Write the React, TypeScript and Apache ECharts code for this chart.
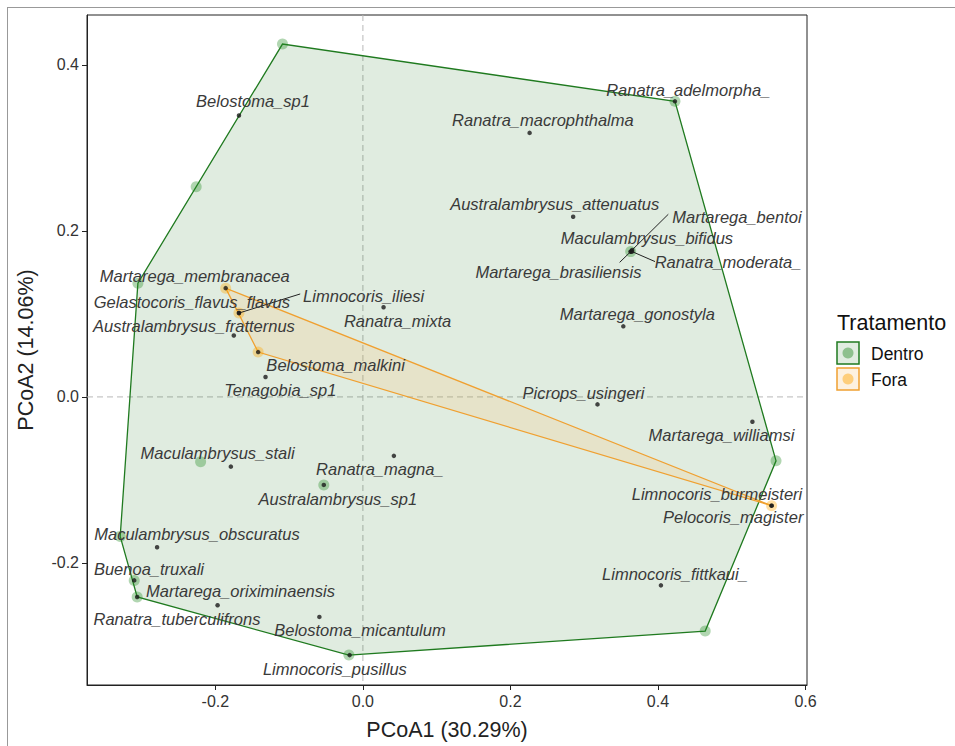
import React, { useEffect, useRef } from "react";
import * as echarts from "echarts";

// ---- Data ----
const speciesNames = [
  "Belostoma_sp1", "Ranatra_macrophthalma", "Ranatra_adelmorpha_", "Australambrysus_attenuatus",
  "Martarega_bentoi", "Maculambrysus_bifidus", "Martarega_brasiliensis", "Ranatra_moderata_",
  "Martarega_gonostyla", "Picrops_usingeri", "Martarega_williamsi", "Limnocoris_burmeisteri",
  "Pelocoris_magister", "Limnocoris_fittkaui_", "Martarega_membranacea", "Gelastocoris_flavus_flavus",
  "Australambrysus_fratternus", "Belostoma_malkini", "Tenagobia_sp1", "Limnocoris_iliesi",
  "Ranatra_mixta", "Maculambrysus_stali", "Ranatra_magna_", "Australambrysus_sp1",
  "Maculambrysus_obscuratus", "Buenoa_truxali", "Martarega_oriximinaensis", "Ranatra_tuberculifrons",
  "Belostoma_micantulum", "Limnocoris_pusillus",
];
const speciesX = [
  -0.168, 0.226, 0.423, 0.285,
  0.365, 0.363, 0.363, 0.365,
  0.353, 0.318, 0.528, 0.554,
  0.554, 0.404, -0.186, -0.168,
  -0.175, -0.142, -0.132, -0.168,
  0.028, -0.179, 0.042, -0.053,
  -0.279, -0.310, -0.197, -0.306,
  -0.059, -0.018,
];
const speciesY = [
  0.339, 0.318, 0.356, 0.217,
  0.177, 0.175, 0.175, 0.175,
  0.085, -0.009, -0.030, -0.131,
  -0.131, -0.227, 0.131, 0.101,
  0.074, 0.054, 0.024, 0.101,
  0.108, -0.084, -0.071, -0.106,
  -0.181, -0.221, -0.251, -0.241,
  -0.265, -0.311,
];
const labelX = [
  -0.149, 0.244, 0.441, 0.260,
  0.507, 0.385, 0.265, 0.495,
  0.372, 0.299, 0.486, 0.480,
  0.502, 0.423, -0.228, -0.232,
  -0.229, -0.037, -0.112, 0.001,
  0.047, -0.197, 0.023, -0.034,
  -0.225, -0.290, -0.166, -0.252,
  -0.004, -0.038,
];
const labelY = [
  0.357, 0.333, 0.370, 0.232,
  0.217, 0.191, 0.150, 0.163,
  0.100, 0.005, -0.046, -0.117,
  -0.145, -0.213, 0.146, 0.114,
  0.086, 0.038, 0.008, 0.122,
  0.092, -0.068, -0.087, -0.123,
  -0.165, -0.207, -0.234, -0.267,
  -0.281, -0.328,
];
// repel segments: label-side start points, ending at the species point
const segmentSpecies = ["Limnocoris_iliesi", "Martarega_bentoi", "Martarega_brasiliensis", "Ranatra_moderata_"];
const segmentStartX = [-0.085, 0.414, 0.348, 0.396];
const segmentStartY = [0.124, 0.220, 0.162, 0.163];

// site scores by treatment
const dentroX = [-0.109, 0.423, 0.560, 0.464, -0.019, -0.306, -0.310, -0.329, -0.305, -0.226, -0.220, -0.053, 0.363];
const dentroY = [0.425, 0.356, -0.077, -0.282, -0.311, -0.241, -0.221, -0.168, 0.137, 0.253, -0.078, -0.106, 0.175];
const foraX = [-0.186, -0.168, -0.142, 0.554];
const foraY = [0.131, 0.101, 0.054, -0.131];

const xTicks = [-0.2, 0.0, 0.2, 0.4, 0.6];
const yTicks = [-0.2, 0.0, 0.2, 0.4];

const GREEN = "#1f7a1f";
const ORANGE = "#f0a030";
const FONT = "'Liberation Sans', Arial, sans-serif";

function convexHull(pts: number[][]): number[][] {
  const p = pts.slice().sort((a, b) => (a[0] - b[0]) || (a[1] - b[1]));
  const cross = (o: number[], a: number[], b: number[]) =>
    (a[0] - o[0]) * (b[1] - o[1]) - (a[1] - o[1]) * (b[0] - o[0]);
  const lower: number[][] = [];
  for (const q of p) {
    while (lower.length >= 2 && cross(lower[lower.length - 2], lower[lower.length - 1], q) <= 0) lower.pop();
    lower.push(q);
  }
  const upper: number[][] = [];
  for (let i = p.length - 1; i >= 0; i--) {
    const q = p[i];
    while (upper.length >= 2 && cross(upper[upper.length - 2], upper[upper.length - 1], q) <= 0) upper.pop();
    upper.push(q);
  }
  upper.pop();
  lower.pop();
  return lower.concat(upper);
}

export default function App() {
  const ref = useRef<HTMLDivElement>(null);
  useEffect(() => {
    document.body.style.margin = "0";
    if (!ref.current) return;
    const chart = echarts.init(ref.current, undefined, { renderer: "svg" });

    const dentroPts = dentroX.map((x, i) => [x, dentroY[i]]);
    const foraPts = foraX.map((x, i) => [x, foraY[i]]);
    const hullD = convexHull(dentroPts);
    const hullF = convexHull(foraPts);
    const species = speciesNames.map((n, i) => ({ name: n, value: [speciesX[i], speciesY[i]] }));
    const labels = speciesNames.map((n, i) => ({ name: n, value: [labelX[i], labelY[i]] }));
    const segs = segmentSpecies.map((n, i) => {
      const k = speciesNames.indexOf(n);
      return [segmentStartX[i], segmentStartY[i], speciesX[k], speciesY[k]];
    });

    const hullSeries = (hull: number[][], fill: string, stroke: string, z: number) => ({
      type: "custom",
      silent: true,
      z,
      data: [[0, 0]],
      renderItem: (_p: any, api: any) => ({
        type: "polygon",
        shape: { points: hull.map((q) => api.coord(q)) },
        style: { fill, stroke, lineWidth: 1.3 },
      }),
    });

    chart.setOption({
      animation: false,
      grid: {
        left: 87, top: 15, right: 148, bottom: 59,
        show: true, borderColor: "#222", borderWidth: 1, backgroundColor: "transparent",
      },
      xAxis: {
        type: "value", min: -0.374, max: 0.602,
        name: "PCoA1 (30.29%)", nameLocation: "middle", nameGap: 34,
        nameTextStyle: { fontSize: 21.5, color: "#222", fontFamily: FONT },
        axisLine: { show: true, onZero: false, lineStyle: { color: "#222", width: 1 } },
        axisTick: { show: true, length: 5, lineStyle: { color: "#222" }, customValues: xTicks },
        axisLabel: {
          fontSize: 16, color: "#333", fontFamily: FONT, margin: 8,
          customValues: xTicks, formatter: (v: number) => v.toFixed(1),
        },
        splitLine: { show: false },
      },
      yAxis: {
        type: "value", min: -0.347, max: 0.46,
        name: "PCoA2 (14.06%)", nameLocation: "middle", nameGap: 50,
        nameTextStyle: { fontSize: 21.5, color: "#222", fontFamily: FONT },
        axisLine: { show: true, onZero: false, lineStyle: { color: "#222", width: 1 } },
        axisTick: { show: true, length: 5, lineStyle: { color: "#222" }, customValues: yTicks },
        axisLabel: {
          fontSize: 16, color: "#333", fontFamily: FONT, margin: 8,
          customValues: yTicks, formatter: (v: number) => v.toFixed(1),
        },
        splitLine: { show: false },
      },
      series: [
        {
          type: "custom", z: 1, silent: true, data: [[0, 0]],
          renderItem: (params: any, api: any) => {
            const cs = params.coordSys;
            const o = api.coord([0, 0]);
            const st = { stroke: "#b8b8b8", lineWidth: 1, lineDash: [6, 4] };
            return {
              type: "group",
              children: [
                { type: "line", shape: { x1: o[0], y1: cs.y, x2: o[0], y2: cs.y + cs.height }, style: st },
                { type: "line", shape: { x1: cs.x, y1: o[1], x2: cs.x + cs.width, y2: o[1] }, style: st },
              ],
            };
          },
        },
        hullSeries(hullD, "rgba(0,100,0,0.12)", GREEN, 2),
        hullSeries(hullF, "rgba(250,195,120,0.22)", ORANGE, 3),
        {
          type: "scatter", z: 4, symbolSize: 11, silent: true,
          itemStyle: { color: "rgba(40,140,40,0.45)" },
          data: dentroPts,
        },
        {
          type: "scatter", z: 4, symbolSize: 11, silent: true,
          itemStyle: { color: "rgba(255,165,0,0.45)" },
          data: foraPts,
        },
        {
          type: "custom", z: 5, silent: true, data: segs,
          renderItem: (_p: any, api: any) => {
            const a = api.coord([api.value(0), api.value(1)]);
            const b = api.coord([api.value(2), api.value(3)]);
            return { type: "line", shape: { x1: a[0], y1: a[1], x2: b[0], y2: b[1] }, style: { stroke: "#222", lineWidth: 1 } };
          },
        },
        {
          type: "scatter", z: 6, symbolSize: 4.5, silent: true,
          itemStyle: { color: "#1a1a1a" },
          data: species,
        },
        {
          type: "custom", z: 7, silent: true, data: labels,
          renderItem: (params: any, api: any) => {
            const c = api.coord([api.value(0), api.value(1)]);
            return {
              type: "text", x: c[0], y: c[1],
              style: {
                text: labels[params.dataIndex].name, align: "center", verticalAlign: "middle",
                fontSize: 16.5, fontStyle: "italic", fontFamily: FONT, fill: "#3a3a3a",
              },
            };
          },
        },
      ],
      graphic: [
        { type: "line", shape: { x1: 7, y1: 7.5, x2: 955, y2: 7.5 }, style: { stroke: "#999", lineWidth: 1 } },
        { type: "line", shape: { x1: 7.5, y1: 7, x2: 7.5, y2: 746 }, style: { stroke: "#999", lineWidth: 1 } },
        { type: "text", x: 837, y: 323, style: { text: "Tratamento", fontSize: 21.5, fontFamily: FONT, fill: "#111", verticalAlign: "middle" } },
        { type: "rect", shape: { x: 837, y: 342, width: 22, height: 22 }, style: { fill: "#e0ece0", stroke: GREEN, lineWidth: 1.5 } },
        { type: "circle", shape: { cx: 848, cy: 353, r: 5.5 }, style: { fill: "rgba(40,140,40,0.45)" } },
        { type: "text", x: 871, y: 353.5, style: { text: "Dentro", fontSize: 17.5, fontFamily: FONT, fill: "#111", verticalAlign: "middle" } },
        { type: "rect", shape: { x: 837, y: 368, width: 22, height: 22 }, style: { fill: "#fdf1e0", stroke: ORANGE, lineWidth: 1.5 } },
        { type: "circle", shape: { cx: 848, cy: 379, r: 5.5 }, style: { fill: "rgba(255,165,0,0.45)" } },
        { type: "text", x: 871, y: 379.5, style: { text: "Fora", fontSize: 17.5, fontFamily: FONT, fill: "#111", verticalAlign: "middle" } },
      ],
    });
    return () => chart.dispose();
  }, []);
  return <div ref={ref} style={{ width: 955, height: 746 }} />;
}
